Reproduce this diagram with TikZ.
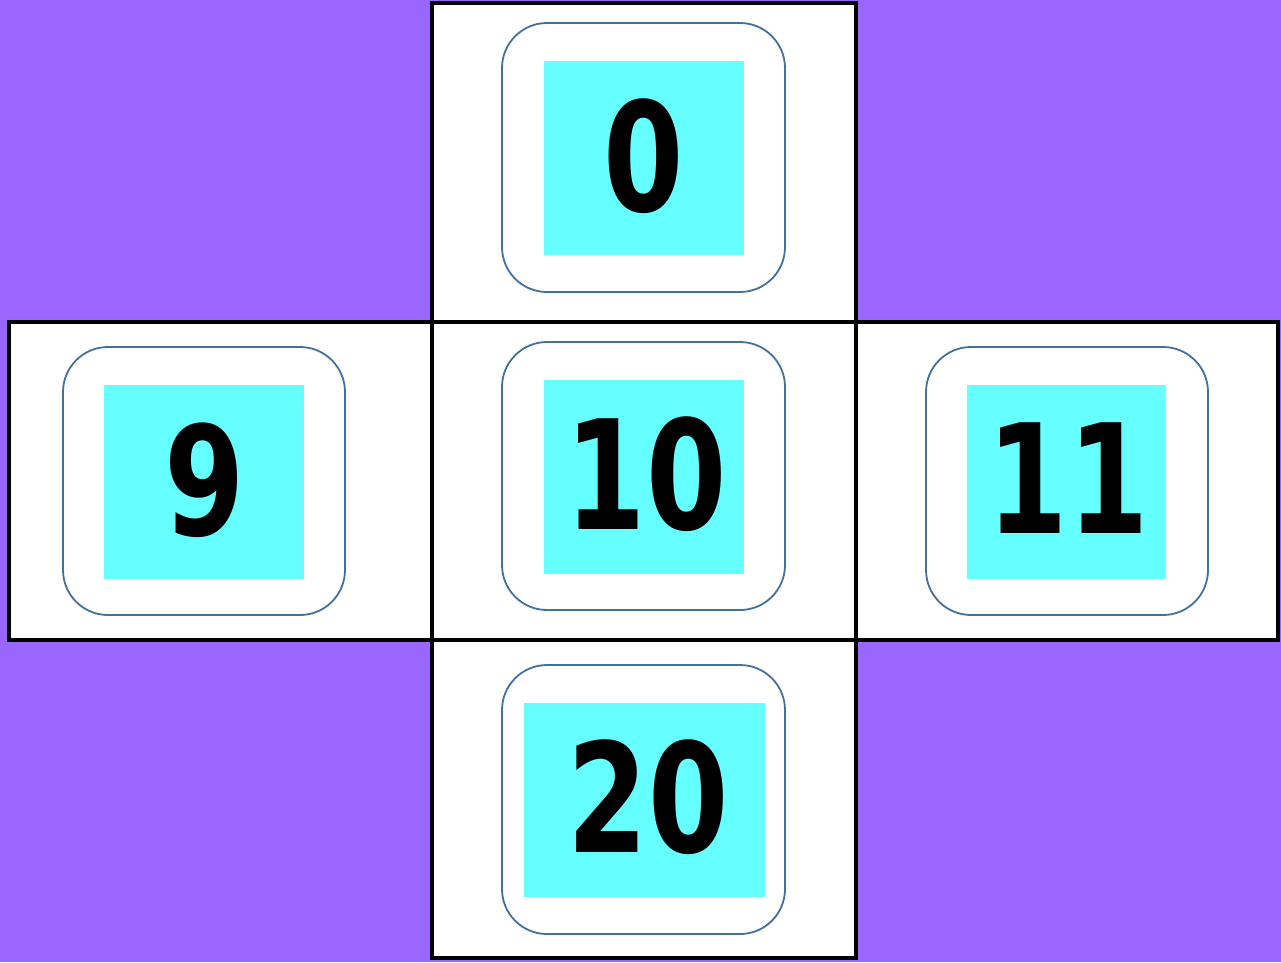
\documentclass[tikz,border=0pt]{standalone}
\usepackage{fontspec}
\setmainfont{DejaVu Sans}
\definecolor{bgpurple}{HTML}{9966FF}
\definecolor{cyanfill}{HTML}{66FFFF}
\definecolor{edgeblue}{HTML}{41719C}
\newcommand{\digits}[1]{\scalebox{0.76}[1]{#1}}
\begin{document}
\begin{tikzpicture}[x=1pt,y=-1pt,
  face/.style={draw=black,fill=white,line width=4.5pt},
  tile/.style={draw=edgeblue,fill=white,line width=1.8pt,rounded corners=45pt},
  sq/.style={fill=cyanfill},
  num/.style={font=\fontsize{152}{152}\selectfont\bfseries}]
\useasboundingbox (0,0) rectangle (1281,962);
\fill[bgpurple] (0,0) rectangle (1281,962);
% faces
\draw[face] (432,3) rectangle (856,322);
\draw[face] (9,322) rectangle (432,640);
\draw[face] (432,322) rectangle (856,640);
\draw[face] (856,322) rectangle (1278,640);
\draw[face] (432,640) rectangle (856,958);
% tiles
\draw[tile] (502,23) rectangle (785,292);
\draw[tile] (63,347) rectangle (345,615);
\draw[tile] (502,342) rectangle (785,610);
\draw[tile] (926,347) rectangle (1208,615);
\draw[tile] (502,665) rectangle (785,934);
% cyan squares
\fill[sq] (544,61) rectangle (744,255);
\fill[sq] (104,385) rectangle (304,579);
\fill[sq] (544,380) rectangle (744,574);
\fill[sq] (967,385) rectangle (1166,579);
\fill[sq] (524,703) rectangle (765,897);
% numbers
\node[num] (n0) at (644,156) {\digits{0}};
\node[num] (n9) at (205,480) {\digits{9}};
\node[num] (n10) at (646,474) {\digits{10}};
\node[num] (n11) at (1068,478) {\digits{11}};
\node[num] (n20) at (648,797) {\digits{20}};
\end{tikzpicture}
\end{document}
